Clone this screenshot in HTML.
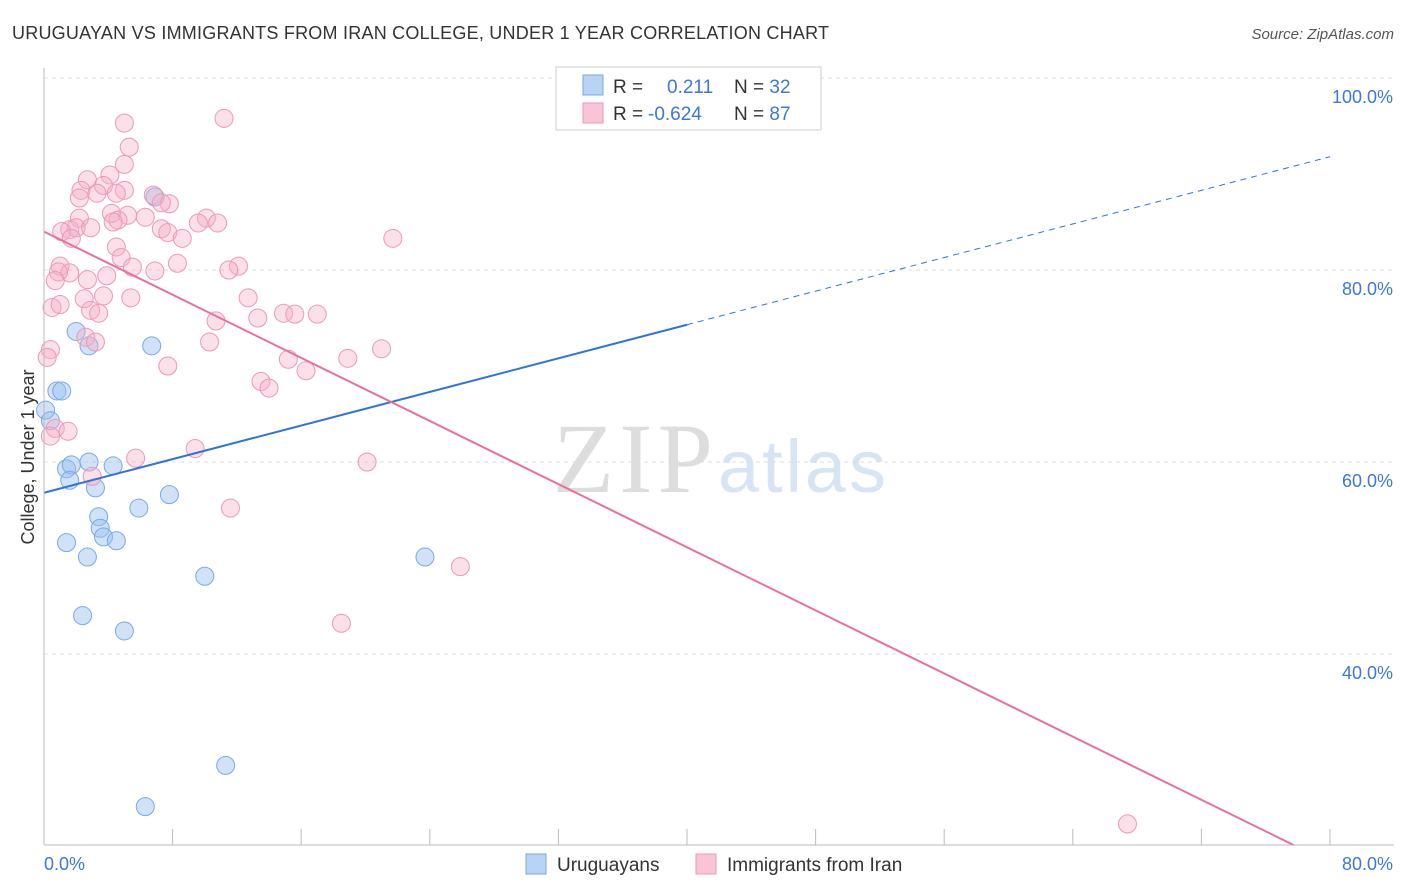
<!DOCTYPE html>
<html><head><meta charset="utf-8"><style>
body{margin:0;background:#fff;font-family:"Liberation Sans",sans-serif;}
#wrap{position:relative;width:1406px;height:892px;overflow:hidden;}
</style></head><body>
<div id="wrap">
<svg id="svg" width="1406" height="892" xmlns="http://www.w3.org/2000/svg">
<text x="12" y="39" font-size="18" fill="#333" textLength="817">URUGUAYAN VS IMMIGRANTS FROM IRAN COLLEGE, UNDER 1 YEAR CORRELATION CHART</text>
<text x="1394" y="39" font-size="15" fill="#555" font-style="italic" text-anchor="end">Source: ZipAtlas.com</text>
<text x="34" y="457" font-size="18" fill="#333" text-anchor="middle" transform="rotate(-90 34 457)">College, Under 1 year</text>
<text x="553" y="492" font-size="100" fill="#ddd" font-family="Liberation Serif,serif" textLength="160">ZIP</text>
<text x="718" y="492" font-size="74" fill="#d6e4f6" textLength="168">atlas</text>
<g id="grid"></g><g id="pts"></g><g id="lines"></g>
<line x1="44" y1="68" x2="44" y2="845" stroke="#bbb"/>
<line x1="44" y1="845" x2="1394" y2="845" stroke="#bbb"/>
<text x="44" y="870" font-size="18" fill="#3b78d8">0.0%</text>
<text x="1393" y="870" font-size="18" fill="#3b78d8" text-anchor="end">80.0%</text>
<g>
<rect x="556" y="67" width="265" height="63" fill="#fff" stroke="#ccc"/>
<rect x="583" y="75" width="20" height="20" fill="#b9d3f5" stroke="#7aa8e4"/>
<rect x="583" y="103" width="20" height="20" fill="#f9c5d6" stroke="#ec98b5"/>
<text x="613" y="93" font-size="19" fill="#333">R = <tspan fill="#3b78d8" x="667">0.211</tspan><tspan x="734">N = </tspan><tspan fill="#3b78d8">32</tspan></text>
<text x="613" y="120" font-size="19" fill="#333">R = <tspan fill="#3b78d8" x="648">-0.624</tspan><tspan x="734">N = </tspan><tspan fill="#3b78d8">87</tspan></text>
</g>
<g>
<rect x="526" y="854" width="20" height="20" fill="#b9d3f5" stroke="#7aa8e4"/>
<text x="557" y="871" font-size="19" fill="#333">Uruguayans</text>
<rect x="696" y="854" width="20" height="20" fill="#f9c5d6" stroke="#ec98b5"/>
<text x="727" y="871" font-size="19" fill="#333">Immigrants from Iran</text>
</g>
</svg>
<script>
const yTicks=[100,80,60,40];
const xTicks=[8,16,24,32,40,48,56,64,72,80];
const blueX=[35.4,6.9,2.0,2.8,6.7,0.8,1.1,0.1,0.4,1.4,1.7,2.8,4.3,1.6,3.2,7.8,5.9,3.4,3.5,3.7,4.5,1.4,2.7,23.7,10.0,2.4,5.0,11.3,6.3];
const blueY=[99.8,87.6,73.6,72.1,72.1,67.4,67.4,65.4,64.3,59.3,59.7,60.0,59.6,58.1,57.3,56.6,55.2,54.3,53.1,52.2,51.8,51.6,50.1,50.1,48.1,44.0,42.4,28.4,24.1];
const pinkX=[11.2,5.0,5.3,5.0,4.1,2.7,3.7,2.3,5.0,3.3,4.5,6.8,2.2,7.8,7.3,4.2,5.2,6.3,2.2,10.1,4.6,10.8,9.6,4.3,1.6,2.0,2.9,1.1,7.3,7.7,8.6,1.7,21.7,4.5,4.8,8.3,5.5,12.1,1.0,11.5,6.9,1.6,0.9,3.9,2.7,0.7,3.7,5.4,2.5,12.7,0.5,1.0,2.9,3.4,14.9,15.6,17.0,13.3,10.7,2.6,3.2,10.3,21.0,0.4,0.2,15.2,18.9,7.7,16.3,13.5,14.0,0.7,1.5,0.4,9.4,5.7,20.1,3.0,11.6,25.9,18.5,67.4];
const pinkY=[95.8,95.3,92.8,91.0,89.9,89.4,88.8,88.3,88.3,88.0,88.0,87.8,87.5,86.9,87.0,85.9,85.7,85.5,85.4,85.4,85.2,84.9,84.9,85.0,84.2,84.4,84.4,84.0,84.3,83.9,83.3,83.3,83.3,82.4,81.3,80.7,80.3,80.4,80.4,80.0,79.9,79.7,79.8,79.4,79.0,78.9,77.3,77.1,77.0,77.1,76.1,76.4,75.8,75.5,75.5,75.4,75.4,75.0,74.7,73.0,72.5,72.5,71.8,71.7,70.9,70.7,70.8,70.0,69.5,68.4,67.7,63.5,63.2,62.7,61.4,60.4,60.0,58.5,55.2,49.1,43.2,22.3];
const blueTrend=[56.8,0.4375]; // intercept, slope
const pinkTrend=[84.0,-0.822];
const X=v=>44+v*16.075, Y=v=>1038-v*9.6;
const NS='http://www.w3.org/2000/svg';
function mk(t,a,p){const e=document.createElementNS(NS,t);for(const k in a)e.setAttribute(k,a[k]);document.getElementById(p).appendChild(e);return e;}
yTicks.forEach(t=>{
 const l=mk('line',{x1:44,x2:1394,y1:Y(t),y2:Y(t),stroke:'#ddd','stroke-dasharray':'4,4'},'grid');
 
 
 const tx=mk('text',{x:1393,y:Y(t)+25,'font-size':18,fill:'#3b78d8','text-anchor':'end'},'grid');
 tx.textContent=t.toFixed(1)+'%';
 
 
});
xTicks.forEach(t=>{
 const l=mk('line',{x1:X(t),x2:X(t),y1:829,y2:845,stroke:'#bbb'},'grid');
 
 
});
blueX.forEach((v,i)=>{
 const c=mk('circle',{cx:X(v),cy:Y(blueY[i]),r:9,fill:'rgba(150,190,240,0.45)',stroke:'#7aa8e4','stroke-width':1},'pts');
 
 
});
pinkX.forEach((v,i)=>{
 const c=mk('circle',{cx:X(v),cy:Y(pinkY[i]),r:9,fill:'rgba(246,175,200,0.4)',stroke:'#ec98b5','stroke-width':1},'pts');
 
 
});
const b1=mk('line',{x1:X(0),y1:Y(blueTrend[0]),x2:X(40),y2:Y(blueTrend[0]+40*blueTrend[1]),stroke:'#2f74d6','stroke-width':2},'lines');


const b2=mk('line',{x1:X(40),y1:Y(blueTrend[0]+40*blueTrend[1]),x2:X(80),y2:Y(blueTrend[0]+80*blueTrend[1]),stroke:'#2f74d6','stroke-width':1,'stroke-dasharray':'6,5'},'lines');


const xe=(20.1-pinkTrend[0])/pinkTrend[1];
const p1=mk('line',{x1:X(0),y1:Y(pinkTrend[0]),x2:X(xe),y2:Y(20.1),stroke:'#e8709a','stroke-width':2},'lines');


</script>
</div>
</body></html>
